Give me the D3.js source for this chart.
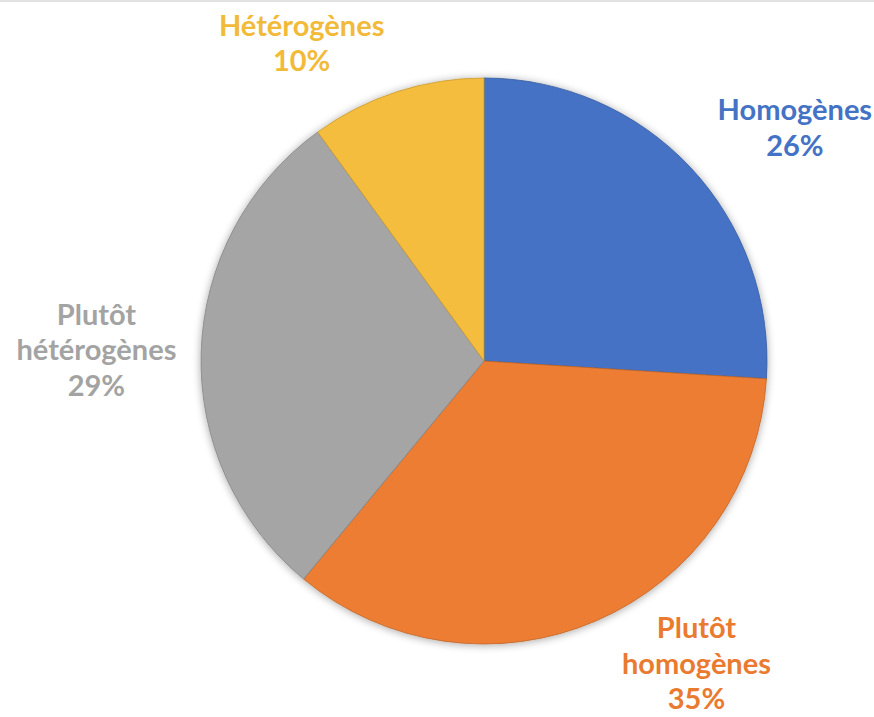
<!DOCTYPE html>
<html><head><meta charset="utf-8">
<script src="https://cdn.jsdelivr.net/npm/d3@7"></script>
<style>html,body{margin:0;padding:0;background:#fff;}svg{display:block;}</style>
</head><body>
<svg id="c" width="874" height="717"></svg>
<script>
const categories = ["Homogènes", "Plutôt homogènes", "Plutôt hétérogènes", "Hétérogènes"];
const values = [26, 35, 29, 10];
const labelLines = [["Homogènes"], ["Plutôt", "homogènes"], ["Plutôt", "hétérogènes"], ["Hétérogènes"]];
const colors = ["#4472C4", "#ED7D31", "#A5A5A5", "#F5BD3C"];
const textColors = ["#4472C4", "#EA7A30", "#A3A3A3", "#F2BA39"];
const labelOffsets = [[53, 9], [72, -22], [-34, 0], [-73, 19]];

const svg = d3.select("#c");
const W = 874, H = 717;
const cx = 484, cy = 361, r = 283;

svg.append("line").attr("x1",0).attr("x2",W).attr("y1",1).attr("y2",1).attr("stroke","#e2e2e2").attr("stroke-width",2);

const defs = svg.append("defs");
const f = defs.append("filter").attr("id","sh").attr("x","-20%").attr("y","-20%").attr("width","140%").attr("height","140%");
f.append("feGaussianBlur").attr("in","SourceAlpha").attr("stdDeviation",4).attr("result","b");
f.append("feOffset").attr("in","b").attr("dx",0).attr("dy",1).attr("result","o");
f.append("feComponentTransfer").attr("in","o").attr("result","o2").append("feFuncA").attr("type","linear").attr("slope",0.35);
const m = f.append("feMerge"); m.append("feMergeNode").attr("in","o2"); m.append("feMergeNode").attr("in","SourceGraphic");

const data = categories.map((c,i)=>({c, v: values[i], i}));
const pie = d3.pie().value(d=>d.v).sort(null);
const arcs = pie(data);
const arc = d3.arc().innerRadius(0).outerRadius(r);
const labelArc = d3.arc().innerRadius(r*1.25).outerRadius(r*1.25);

const g = svg.append("g").attr("transform",`translate(${cx},${cy})`);
g.append("g").attr("filter","url(#sh)").selectAll("path").data(arcs).join("path")
  .attr("d", arc).attr("fill", d=>colors[d.data.i])
  .attr("stroke", d=>d3.color(colors[d.data.i]).darker(0.6)).attr("stroke-width",0.8);

const lh = 35.5;
const fmt = d => d3.format(".0%")(d.v/d3.sum(values));
arcs.forEach(a=>{
  const [x,y] = labelArc.centroid(a);
  const off = labelOffsets[a.data.i];
  const lines = labelLines[a.data.i].concat([fmt(a.data)]);
  const t = g.append("text").attr("text-anchor","middle")
    .attr("font-family","Lato, 'Open Sans', sans-serif").attr("font-weight","bold")
    .attr("font-size",29).attr("fill", textColors[a.data.i]);
  const n = lines.length;
  lines.forEach((s,k)=>{
    t.append("tspan").attr("x", x+off[0]).attr("y", y+off[1] + (k-(n-1)/2)*lh).attr("dy","0.35em").text(s);
  });
});
</script>
</body></html>
